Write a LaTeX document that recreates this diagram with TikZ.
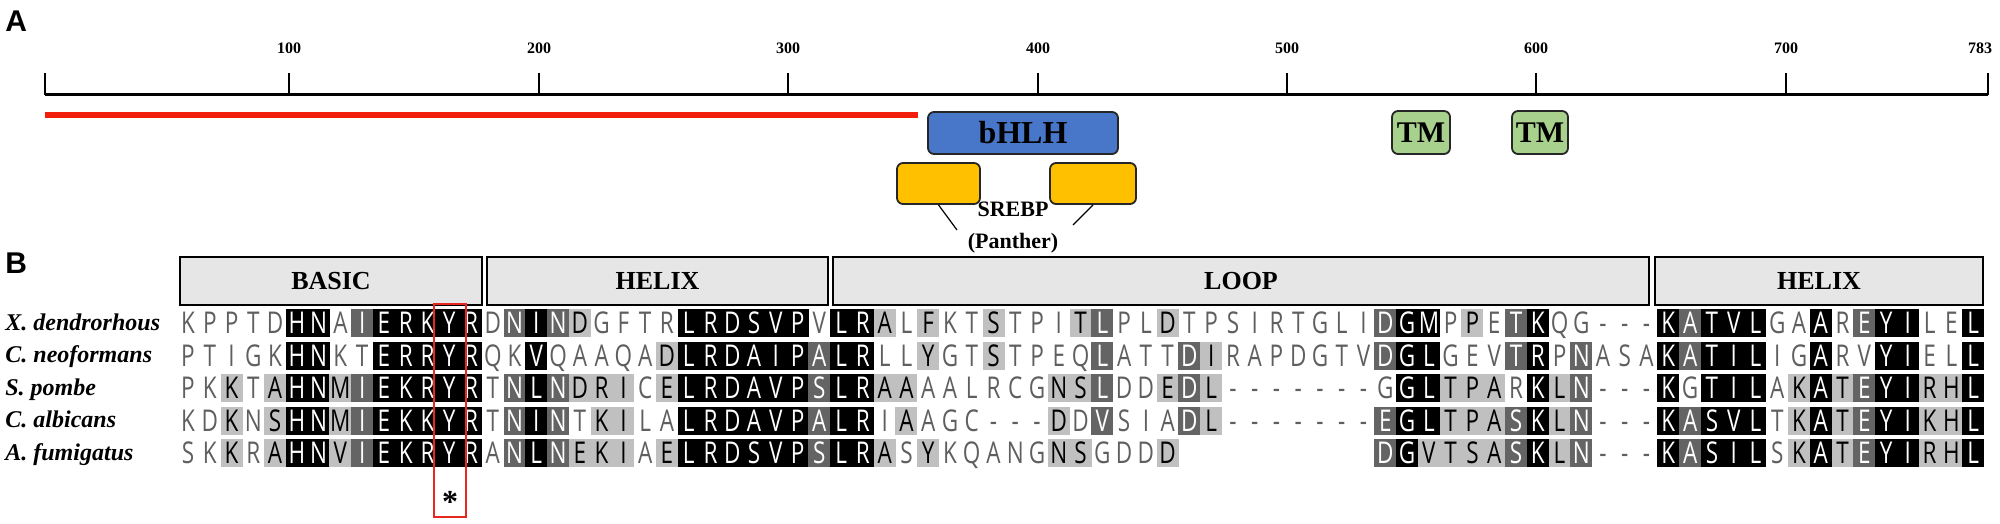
\documentclass[tikz,border=0pt]{standalone}
\usepackage{fontspec}
\setmainfont{Liberation Serif}
\newfontfamily\panelfont{Liberation Sans}
\newfontfamily\alnfont{Open Sans}[FakeStretch=0.75]
\usetikzlibrary{positioning}

\definecolor{bhlhblue}{RGB}{72,118,200}
\definecolor{tmgreen}{RGB}{169,209,142}
\definecolor{srebpgold}{RGB}{255,192,0}
\definecolor{trunc}{RGB}{240,30,10}
\definecolor{hdrgray}{RGB}{230,230,230}
\definecolor{shadelt}{RGB}{192,192,192}
\definecolor{shadedk}{RGB}{100,100,100}
\definecolor{plainres}{RGB}{95,95,95}
\definecolor{boxred}{RGB}{230,40,30}

\begin{document}
\begin{tikzpicture}[
        x=0.5pt, y=-0.5pt, % pixel grid of the figure
        panel/.style={font=\panelfont\bfseries\fontsize{15}{15}\selectfont, inner sep=0, anchor=north west},
        ticklab/.style={font=\bfseries\fontsize{8}{8}\selectfont, inner sep=0},
        protbox/.style={draw=black!85, line width=0.9pt, rounded corners=3pt, inner sep=0, font=\bfseries\fontsize{16}{16}\selectfont},
        hdr/.style={draw=black, line width=1.2pt, fill=hdrgray, minimum height=24pt, inner sep=0, font=\bfseries\fontsize{13}{13}\selectfont},
        species/.style={anchor=base west, inner sep=0, font=\bfseries\itshape\fontsize{12}{12}\selectfont},
        res/.style={minimum width=11pt, minimum height=14pt, inner sep=0, text height=10.5pt, text depth=0pt, font=\alnfont\fontsize{15}{15}\selectfont},
        res0/.style={res, text=plainres},
        res1/.style={res, fill=shadelt, text=black},
        res2/.style={res, fill=shadedk, text=white},
        res3/.style={res, fill=black, text=white},
    ]
    \useasboundingbox (0,0) rectangle (2000,524);

    % panel A: protein map
    \node[panel] (labA) at (5,10) {A};
    \draw[line width=1.5pt] (45,95) -- (1988,95);
    \foreach \tx/\tl/\lx in {45//45,289/100/289,539/200/539,788/300/788,1038/400/1038,1287/500/1287,1536/600/1536,1786/700/1786,1988/783/1980} {
        \draw[line width=1.2pt] (\tx,73) -- (\tx,95);
        \node[ticklab] (tick\tl) at (\lx,48) {\tl};
    }
    \draw[trunc, line width=3pt] (45,115) -- (918,115);

    \node[protbox, fill=bhlhblue, minimum width=95pt, minimum height=21pt] (bhlh) at (1023,133) {bHLH};
    \node[protbox, fill=tmgreen, minimum width=29pt, minimum height=21.5pt, font=\bfseries\fontsize{15}{15}\selectfont] (tm1) at (1421,132.5) {TM};
    \node[protbox, fill=tmgreen, minimum width=28pt, minimum height=21.5pt, font=\bfseries\fontsize{15}{15}\selectfont] (tm2) at (1540,132.5) {TM};
    \node[protbox, fill=srebpgold, minimum width=41.5pt, minimum height=20.5pt] (srebpA) at (938.5,183.5) {};
    \node[protbox, fill=srebpgold, minimum width=43pt, minimum height=20.5pt] (srebpB) at (1093,183.5) {};
    \node[align=center, inner sep=0, font=\bfseries\fontsize{11}{16}\selectfont] (srebplab) at (1013,228) {SREBP\\(Panther)};
    \coordinate (srebpendA) at (957,230);
    \coordinate (srebpendB) at (1073,225);
    \draw[line width=0.6pt] (srebpA.south) -- (srebpendA);
    \draw[line width=0.6pt] (srebpB.south) -- (srebpendB);

    % panel B: alignment
    \node[panel] (labB) at (5,252) {B};
    \node[hdr, minimum width=151pt] (basic) at (331,281) {BASIC};
    \node[hdr, minimum width=170.5pt] (helixA) at (657.5,281) {HELIX};
    \node[hdr, minimum width=408pt] (loop) at (1241,281) {LOOP};
    \node[hdr, minimum width=164pt] (helixB) at (1819,281) {HELIX};

    \node[species] (sp1) at (5,330) {X. dendrorhous};
    \node[species] (sp2) at (5,362.6) {C. neoformans};
    \node[species] (sp3) at (5,395.2) {S. pombe};
    \node[species] (sp4) at (5,427.8) {C. albicans};
    \node[species] (sp5) at (5,460.4) {A. fumigatus};

    \foreach \rsd/\lvl [count=\c] in {K/0,P/0,P/0,T/0,D/0,H/3,N/3,A/0,I/2,E/3,R/3,K/3,Y/3,R/3,
            D/0,N/2,I/3,N/2,D/1,G/0,F/0,T/0,R/0,L/3,R/3,D/3,S/3,V/3,P/3,V/0,L/3,R/3,
            A/1,L/0,F/1,K/0,T/0,S/1,T/0,P/0,I/0,T/1,L/2,P/0,L/0,D/1,T/0,P/0,S/0,I/0,R/0,T/0,G/0,L/0,I/0,
            D/2,G/3,M/3,P/0,P/1,E/0,T/2,K/3,Q/0,G/0,-/0,-/0,-/0,
            K/3,A/2,T/3,V/3,L/3,G/0,A/0,A/3,R/0,E/2,Y/3,I/3,L/0,E/0,L/3}
        \node[res\lvl] (r1c\c) at ({188+(\c-1)*21.77},323) {\rsd};
    \foreach \rsd/\lvl [count=\c] in {P/0,T/0,I/0,G/0,K/0,H/3,N/3,K/0,T/0,E/3,R/3,R/3,Y/3,R/3,
            Q/0,K/0,V/3,Q/0,A/0,A/0,Q/0,A/0,D/1,L/3,R/3,D/3,A/3,I/3,P/3,A/2,L/3,R/3,
            L/0,L/0,Y/1,G/0,T/0,S/1,T/0,P/0,E/0,Q/0,L/2,A/0,T/0,T/0,D/2,I/1,R/0,A/0,P/0,D/0,G/0,T/0,V/0,
            D/2,G/3,L/3,G/0,E/0,V/0,T/2,R/3,P/0,N/2,A/0,S/0,A/0,
            K/3,A/2,T/3,I/3,L/3,I/0,G/0,A/3,R/0,V/0,Y/3,I/3,E/0,L/0,L/3}
        \node[res\lvl] (r2c\c) at ({188+(\c-1)*21.77},355.6) {\rsd};
    \foreach \rsd/\lvl [count=\c] in {P/0,K/0,K/1,T/0,A/1,H/3,N/3,M/1,I/2,E/3,K/3,R/3,Y/3,R/3,
            T/0,N/2,L/3,N/2,D/1,R/1,I/1,C/0,E/1,L/3,R/3,D/3,A/3,V/3,P/3,S/2,L/3,R/3,
            A/1,A/1,A/0,A/0,L/0,R/0,C/0,G/0,N/1,S/1,L/2,D/0,D/0,E/1,D/2,L/1,-/0,-/0,-/0,-/0,-/0,-/0,-/0,
            G/0,G/3,L/3,T/1,P/1,A/1,R/0,K/3,L/1,N/2,-/0,-/0,-/0,
            K/3,G/0,T/3,I/3,L/3,A/0,K/1,A/3,T/1,E/2,Y/3,I/3,R/1,H/1,L/3}
        \node[res\lvl] (r3c\c) at ({188+(\c-1)*21.77},388.2) {\rsd};
    \foreach \rsd/\lvl [count=\c] in {K/0,D/0,K/1,N/0,S/1,H/3,N/3,M/1,I/2,E/3,K/3,K/3,Y/3,R/3,
            T/0,N/2,I/3,N/2,T/0,K/1,I/1,L/0,A/0,L/3,R/3,D/3,A/3,V/3,P/3,A/2,L/3,R/3,
            I/0,A/1,A/0,G/0,C/0,-/0,-/0,-/0,D/1,D/0,V/2,S/0,I/0,A/0,D/2,L/1,-/0,-/0,-/0,-/0,-/0,-/0,-/0,
            E/2,G/3,L/3,T/1,P/1,A/1,S/2,K/3,L/1,N/2,-/0,-/0,-/0,
            K/3,A/2,S/3,V/3,L/3,T/0,K/1,A/3,T/1,E/2,Y/3,I/3,K/1,H/1,L/3}
        \node[res\lvl] (r4c\c) at ({188+(\c-1)*21.77},420.8) {\rsd};
    \foreach \rsd/\lvl [count=\c] in {S/0,K/0,K/1,R/0,A/1,H/3,N/3,V/1,I/2,E/3,K/3,R/3,Y/3,R/3,
            A/0,N/2,L/3,N/2,E/1,K/1,I/1,A/0,E/1,L/3,R/3,D/3,S/3,V/3,P/3,S/2,L/3,R/3,
            A/1,S/0,Y/1,K/0,Q/0,A/0,N/0,G/0,N/1,S/1,G/0,D/0,D/0,D/1,{}/0,{}/0,{}/0,{}/0,{}/0,{}/0,{}/0,{}/0,{}/0,
            D/2,G/3,V/1,T/1,S/1,A/1,S/2,K/3,L/1,N/2,-/0,-/0,-/0,
            K/3,A/2,S/3,I/3,L/3,S/0,K/1,A/3,T/1,E/2,Y/3,I/3,R/1,H/1,L/3}
        \node[res\lvl] (r5c\c) at ({188+(\c-1)*21.77},453.4) {\rsd};

    % conserved tyrosine
    \node[draw=boxred, line width=1.2pt, minimum width=16pt, minimum height=106.5pt, inner sep=0] (tyrbox) at (450,410.5) {};
    \node[anchor=base, inner sep=0, font=\bfseries\fontsize{16}{16}\selectfont] (tyrstar) at (450,512) {*};
\end{tikzpicture}
\end{document}
